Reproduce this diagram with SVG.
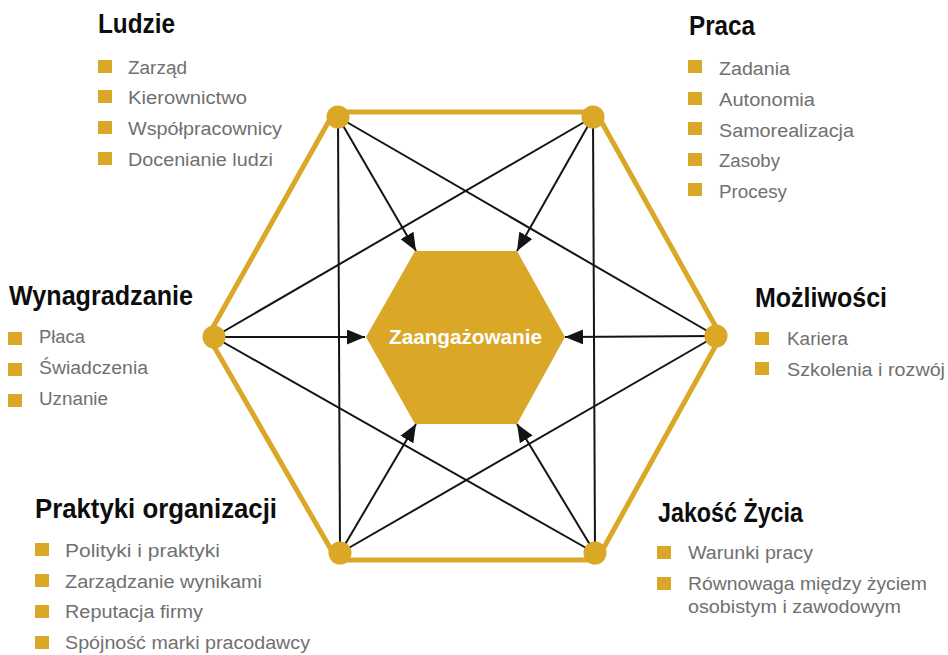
<svg xmlns="http://www.w3.org/2000/svg" width="948" height="655" viewBox="0 0 948 655">
  <style>
    .title { font-family: "Liberation Sans", Arial, sans-serif; font-weight: bold; font-size: 27px; fill: #0d0d0d; }
    .item { font-family: "Liberation Sans", Arial, sans-serif; font-size: 18px; fill: #707070; }
    .bullet { fill: #dba726; }
    .frame { fill: none; stroke: #dba726; stroke-width: 5; stroke-linejoin: round; }
    .vertex { fill: #dba726; }
    .link { stroke: #141414; stroke-width: 2; fill: none; }
    .arrow { stroke: #141414; stroke-width: 2; fill: none; marker-end: url(#head); }
    .core { fill: #dba726; }
    .coreText { font-family: "Liberation Sans", Arial, sans-serif; font-weight: bold; font-size: 20px; fill: #ffffff; }
  </style>
  <defs>
    <marker id="head" viewBox="0 0 18 15" refX="18" refY="7.5" markerWidth="18" markerHeight="15" markerUnits="userSpaceOnUse" orient="auto">
      <path d="M0,0 L18,7.5 L0,15 Z" fill="#141414"/>
    </marker>
  </defs>

  <!-- outer hexagon frame -->
  <polygon class="frame" points="334,112 596,112 721,336 597,560 337,560 208,336"/>

  <!-- connectors -->
  <g id="connectors">
    <line class="link" x1="338" y1="117" x2="340" y2="553"/>
    <line class="link" x1="593" y1="117" x2="595" y2="553"/>
    <line class="link" x1="338" y1="117" x2="716" y2="336"/>
    <line class="link" x1="593" y1="117" x2="214" y2="337"/>
    <line class="link" x1="214" y1="337" x2="595" y2="553"/>
    <line class="link" x1="716" y1="336" x2="340" y2="553"/>
    <line class="arrow" x1="338" y1="117" x2="416" y2="251"/>
    <line class="arrow" x1="593" y1="117" x2="517" y2="251"/>
    <line class="arrow" x1="214" y1="337" x2="365" y2="337"/>
    <line class="arrow" x1="716" y1="336" x2="565" y2="337"/>
    <line class="arrow" x1="340" y1="553" x2="416" y2="424"/>
    <line class="arrow" x1="595" y1="553" x2="517" y2="424"/>
  </g>

  <!-- vertex dots -->
  <g id="vertices">
    <circle class="vertex" cx="338" cy="117" r="11.5"/>
    <circle class="vertex" cx="593" cy="117" r="11.5"/>
    <circle class="vertex" cx="716" cy="336" r="11.5"/>
    <circle class="vertex" cx="595" cy="553" r="11.5"/>
    <circle class="vertex" cx="340" cy="553" r="11.5"/>
    <circle class="vertex" cx="214" cy="337" r="11.5"/>
  </g>

  <!-- central node -->
  <g id="zaangazowanie">
    <polygon class="core" points="415,251 517,251 565,337 517,424 415,424 366,337"/>
    <text class="coreText" x="389" y="344" textLength="153" lengthAdjust="spacingAndGlyphs">Zaangażowanie</text>
  </g>

  <!-- Ludzie -->
  <g id="ludzie">
    <text class="title" x="98" y="33" textLength="77" lengthAdjust="spacingAndGlyphs">Ludzie</text>
    <rect class="bullet" x="98" y="60" width="14" height="13"/>
    <text class="item" x="128" y="74" textLength="59" lengthAdjust="spacingAndGlyphs">Zarząd</text>
    <rect class="bullet" x="98" y="90" width="14" height="13"/>
    <text class="item" x="128" y="104" textLength="119" lengthAdjust="spacingAndGlyphs">Kierownictwo</text>
    <rect class="bullet" x="98" y="121" width="14" height="13"/>
    <text class="item" x="128" y="135" textLength="154" lengthAdjust="spacingAndGlyphs">Współpracownicy</text>
    <rect class="bullet" x="98" y="152" width="14" height="13"/>
    <text class="item" x="128" y="166" textLength="145" lengthAdjust="spacingAndGlyphs">Docenianie ludzi</text>
  </g>

  <!-- Praca -->
  <g id="praca">
    <text class="title" x="689" y="35" textLength="66" lengthAdjust="spacingAndGlyphs">Praca</text>
    <rect class="bullet" x="688" y="60" width="14" height="13"/>
    <text class="item" x="719" y="75" textLength="71" lengthAdjust="spacingAndGlyphs">Zadania</text>
    <rect class="bullet" x="688" y="92" width="14" height="13"/>
    <text class="item" x="719" y="106" textLength="96" lengthAdjust="spacingAndGlyphs">Autonomia</text>
    <rect class="bullet" x="688" y="122" width="14" height="13"/>
    <text class="item" x="719" y="137" textLength="135" lengthAdjust="spacingAndGlyphs">Samorealizacja</text>
    <rect class="bullet" x="688" y="153" width="14" height="13"/>
    <text class="item" x="719" y="167" textLength="61" lengthAdjust="spacingAndGlyphs">Zasoby</text>
    <rect class="bullet" x="688" y="183" width="14" height="13"/>
    <text class="item" x="719" y="198" textLength="68" lengthAdjust="spacingAndGlyphs">Procesy</text>
  </g>

  <!-- Wynagradzanie -->
  <g id="wynagradzanie">
    <text class="title" x="9" y="305" textLength="184" lengthAdjust="spacingAndGlyphs">Wynagradzanie</text>
    <rect class="bullet" x="8" y="332" width="14" height="13"/>
    <text class="item" x="39" y="343" textLength="46" lengthAdjust="spacingAndGlyphs">Płaca</text>
    <rect class="bullet" x="8" y="363" width="14" height="13"/>
    <text class="item" x="39" y="374" textLength="109" lengthAdjust="spacingAndGlyphs">Świadczenia</text>
    <rect class="bullet" x="8" y="394" width="14" height="13"/>
    <text class="item" x="39" y="405" textLength="69" lengthAdjust="spacingAndGlyphs">Uznanie</text>
  </g>

  <!-- Możliwości -->
  <g id="mozliwosci">
    <text class="title" x="755" y="307" textLength="132" lengthAdjust="spacingAndGlyphs">Możliwości</text>
    <rect class="bullet" x="755" y="332" width="14" height="13"/>
    <text class="item" x="787" y="345" textLength="61" lengthAdjust="spacingAndGlyphs">Kariera</text>
    <rect class="bullet" x="755" y="362" width="14" height="13"/>
    <text class="item" x="787" y="376" textLength="158" lengthAdjust="spacingAndGlyphs">Szkolenia i rozwój</text>
  </g>

  <!-- Praktyki organizacji -->
  <g id="praktyki">
    <text class="title" x="35" y="518" textLength="242" lengthAdjust="spacingAndGlyphs">Praktyki organizacji</text>
    <rect class="bullet" x="35" y="543" width="14" height="13"/>
    <text class="item" x="65" y="557" textLength="155" lengthAdjust="spacingAndGlyphs">Polityki i praktyki</text>
    <rect class="bullet" x="35" y="574" width="14" height="13"/>
    <text class="item" x="65" y="588" textLength="197" lengthAdjust="spacingAndGlyphs">Zarządzanie wynikami</text>
    <rect class="bullet" x="35" y="605" width="14" height="13"/>
    <text class="item" x="65" y="618" textLength="138" lengthAdjust="spacingAndGlyphs">Reputacja firmy</text>
    <rect class="bullet" x="35" y="636" width="14" height="13"/>
    <text class="item" x="65" y="649" textLength="245" lengthAdjust="spacingAndGlyphs">Spójność marki pracodawcy</text>
  </g>

  <!-- Jakość Życia -->
  <g id="jakosc-zycia">
    <text class="title" x="658" y="522" textLength="145" lengthAdjust="spacingAndGlyphs">Jakość Życia</text>
    <rect class="bullet" x="657" y="546" width="14" height="13"/>
    <text class="item" x="688" y="559" textLength="125" lengthAdjust="spacingAndGlyphs">Warunki pracy</text>
    <rect class="bullet" x="657" y="577" width="14" height="13"/>
    <text class="item" x="688" y="590" textLength="239" lengthAdjust="spacingAndGlyphs">Równowaga między życiem</text>
    <text class="item" x="688" y="613" textLength="213" lengthAdjust="spacingAndGlyphs">osobistym i zawodowym</text>
  </g>
</svg>
